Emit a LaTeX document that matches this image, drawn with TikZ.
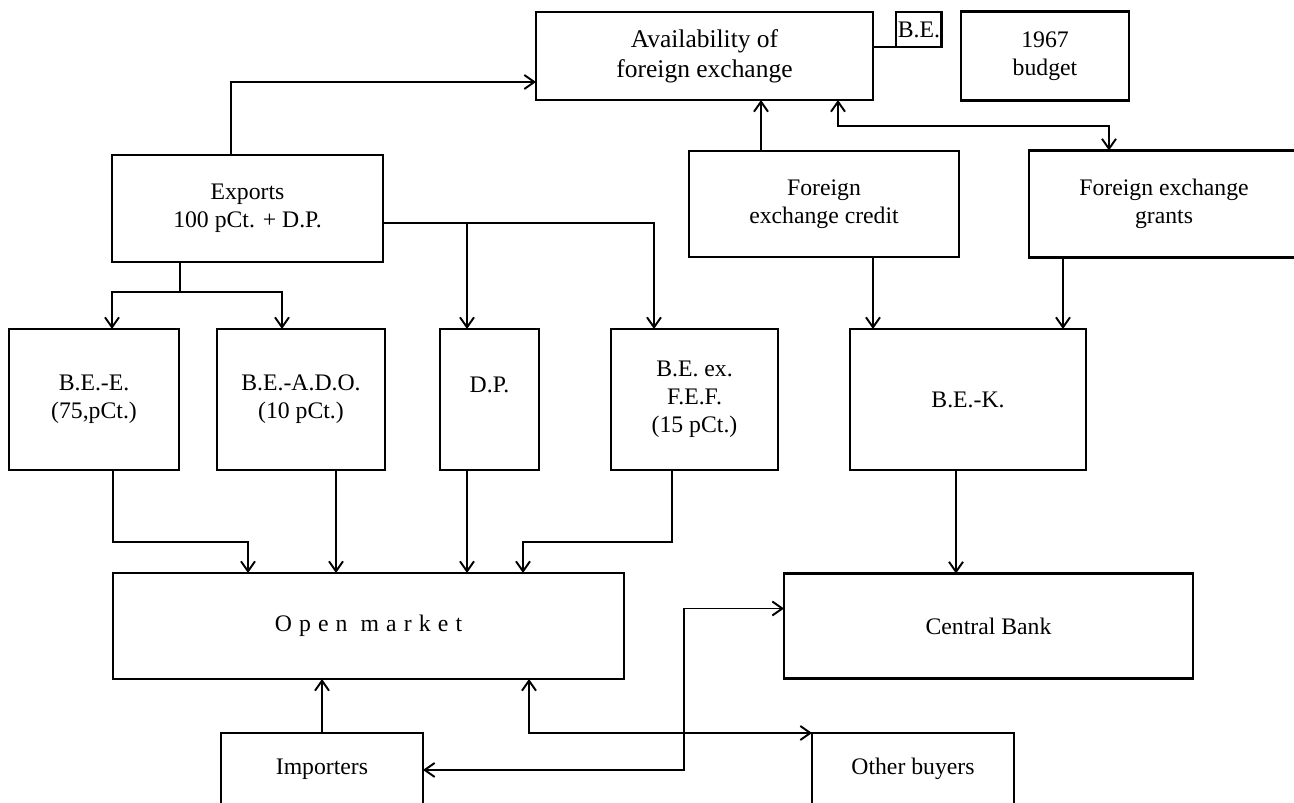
\documentclass[tikz,border=0pt]{standalone}
\usepackage{fontspec}
\setmainfont{Liberation Serif}
\usetikzlibrary{positioning,arrows.meta}

\begin{document}
\begin{tikzpicture}[
  node distance=1cm and 1cm,
  box/.style={draw, line width=1.5pt, align=center, inner sep=2pt, outer sep=0pt,
              font=\fontsize{13.5}{16}\selectfont},
  arr/.style={-{Straight Barb[length=2mm,width=2.8mm]}, line width=1.1pt},
  arrs/.style={{Straight Barb[length=2mm,width=2.8mm]}-{Straight Barb[length=2mm,width=2.8mm]},
               line width=1.1pt},
  link/.style={line width=1.1pt}
]
  \useasboundingbox (0,0) rectangle (25.88,16.04);
  \clip (0,0) rectangle (25.88,16.04);

  % middle row
  \node[box, minimum width=3.4cm,  minimum height=2.82cm] (bee) at (1.88,8.05) {B.E.-E.\\(75,pCt.)};
  \node[box, minimum width=3.36cm, minimum height=2.82cm, right=0.76cm of bee] (beado) {B.E.-A.D.O.\\(10 pCt.)};
  \node[box, minimum width=1.98cm, minimum height=2.82cm, text height=0.3cm, text depth=0.56cm,
        right=1.1cm of beado] (dp) {D.P.};
  \node[box, minimum width=3.34cm, minimum height=2.82cm, right=1.44cm of dp] (befef) {B.E. ex.\\F.E.F.\\(15 pCt.)};
  \node[box, minimum width=4.72cm, minimum height=2.82cm, right=1.44cm of befef] (bek) {B.E.-K.};

  % upper rows
  \node[box, minimum width=5.42cm, minimum height=2.14cm,
        above right=1.34cm and 2.06cm of bee.north west] (exports) {Exports\\100 pCt. + D.P.};
  \node[box, minimum width=5.4cm, minimum height=2.12cm, above=1.44cm of bek, xshift=-2.88cm] (credit) {Foreign\\exchange credit};
  \node[box, minimum width=5.4cm, minimum height=2.14cm, right=1.4cm of credit] (grants) {Foreign exchange\\grants};
  \node[box, minimum width=6.74cm, minimum height=1.76cm, font=\fontsize{14.5}{17}\selectfont,
        above=1.02cm of credit, xshift=-2.39cm] (avail) {Availability of\\foreign exchange};
  \node[box, minimum width=0.84cm, minimum height=0.7cm, inner sep=1pt,
        below right=0cm and 0.46cm of avail.north east] (be) {B.E.};
  \node[box, minimum width=3.36cm, minimum height=1.78cm, right=1.76cm of avail] (budget) {1967\\budget};

  % lower rows
  \node[box, minimum width=10.22cm, minimum height=2.12cm,
        below right=2.06cm and 2.08cm of bee.south west] (open) {\addfontfeature{LetterSpace=30}Open market};
  \node[box, minimum width=8.18cm, minimum height=2.1cm, right=3.2cm of open] (central) {Central Bank};
  \node[box, minimum width=4.04cm, inner ysep=0pt, text height=0.82cm, text depth=1.6cm,
        below right=1.08cm and 2.16cm of open.south west] (importers) {Importers};
  \node[box, minimum width=4.04cm, inner ysep=0pt, text height=0.82cm, text depth=1.6cm,
        below right=0cm and 7.78cm of importers.north east] (other) {Other buyers};

  % into availability
  \draw[arr] ([xshift=2.38cm]exports.north west) |- ([yshift=0.36cm]avail.south west);
  \coordinate (cu) at ([xshift=1.44cm]credit.north west);
  \draw[arr] (cu) -- (cu |- avail.south);
  \draw[arrs] ([xshift=-0.7cm]avail.south east) -- ++(0,-0.52) -| ([xshift=1.6cm]grants.north west);
  \draw[link] (avail.east |- be.south) -- (be.south west);

  % exports split
  \coordinate (xs) at ([xshift=1.36cm,yshift=-0.6cm]exports.south west);
  \draw[link] (xs |- exports.south) -- (xs);
  \draw[arr] (xs) -| ([xshift=0.36cm]bee.north);
  \draw[arr] (xs) -| ([xshift=-0.38cm]beado.north);
  \coordinate (xe) at ([yshift=-0.29cm]exports.east);
  \draw[arr] (xe) -| ([xshift=-0.81cm]befef.north);
  \coordinate (dpin) at ([xshift=-0.45cm]dp.north);
  \draw[arr] (dpin |- xe) -- (dpin);

  % into open market
  \draw[arr] ([xshift=0.38cm]bee.south) |- ([xshift=2.7cm,yshift=0.62cm]open.north west)
             -- ([xshift=2.7cm]open.north west);
  \coordinate (ad) at ([xshift=0.7cm]beado.south);
  \draw[arr] (ad) -- (ad |- open.north);
  \coordinate (dpout) at ([xshift=-0.45cm]dp.south);
  \draw[arr] (dpout) -- (dpout |- open.north);
  \draw[arr] ([xshift=-0.45cm]befef.south) |- ([xshift=8.2cm,yshift=0.62cm]open.north west)
             -- ([xshift=8.2cm]open.north west);

  % credit side
  \coordinate (ck) at ([xshift=0.98cm]credit.south);
  \draw[arr] (ck) -- (ck |- bek.north);
  \coordinate (gk) at ([xshift=-2.02cm]grants.south);
  \draw[arr] (gk) -- (gk |- bek.north);
  \coordinate (kc) at ([xshift=-0.24cm]bek.south);
  \draw[arr] (kc) -- (kc |- central.north);

  % buyers
  \draw[arr] (importers.north) -- (importers.north |- open.south);
  \draw[arrs] (importers.mid east) -| ([xshift=-2cm,yshift=0.35cm]central.west)
              -- ([yshift=0.35cm]central.west);
  \draw[arrs] ([xshift=-1.9cm]open.south east) |- (other.north west);
\end{tikzpicture}
\end{document}
